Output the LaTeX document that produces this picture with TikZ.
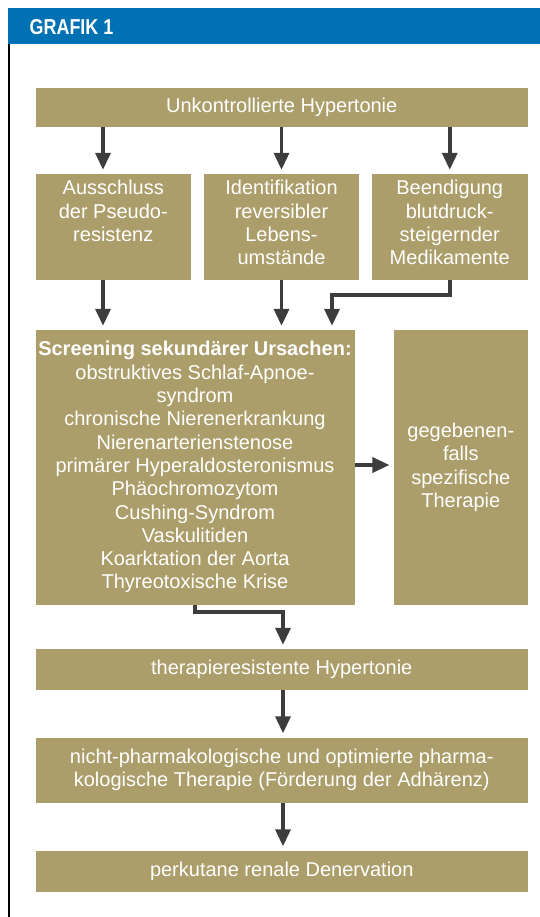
\documentclass[tikz,border=0pt]{standalone}
\usepackage{fontspec}
\setmainfont{Liberation Sans}
\newfontfamily\kopffont{Liberation Sans}[FakeStretch=0.83]
\usetikzlibrary{arrows.meta}
\definecolor{kasten}{HTML}{AB9E6A}
\definecolor{kopfblau}{HTML}{0071B3}
\definecolor{pfeilgrau}{HTML}{3D3D3D}

\begin{document}
\begin{tikzpicture}[x=1pt,y=-1pt,>={Triangle[width=15pt,length=17pt]},
	box/.style={fill=kasten,text=white,inner sep=0pt,align=center,
		font=\fontsize{20}{23.3}\selectfont},
	pfeil/.style={draw=pfeilgrau,line width=3.5pt,->,shorten >=4pt}]
	\useasboundingbox (0,0) rectangle (540,917);
	% Kopfzeile
	\fill[kopfblau] (7.6,8.3) rectangle (540,44);
	\node[anchor=west,inner sep=0pt,text=white,font=\kopffont\bfseries\fontsize{21.6}{24}\selectfont] (titel) at (29.5,26.8) {GRAFIK 1};
	\draw[line width=2.5pt] (9,44) -- (9,917);
	% Kaesten
	\node[box,minimum width=492.5pt,minimum height=39pt] (unkontr) at (281.75,107.5) {Unkontrollierte Hypertonie};
	\node[box] (ausschluss) at (113.25,227) {\parbox[c][106pt][t]{155.5pt}{\vspace*{6.5pt}\centering Ausschluss\\der Pseudo-\\resistenz}};
	\node[box] (identifikation) at (281.5,227) {\parbox[c][106pt][t]{155pt}{\vspace*{6.5pt}\centering Identifikation\\reversibler\\Lebens-\\umstände}};
	\node[box] (beendigung) at (449.75,227) {\parbox[c][106pt][t]{155.5pt}{\vspace*{6.5pt}\centering Beendigung\\blutdruck-\\steigernder\\Medikamente}};
	\node[box,minimum width=319pt,minimum height=274.5pt] (screening) at (195,467.25) {\textbf{Screening sekundärer Ursachen:}\\obstruktives Schlaf-Apnoe-\\syndrom\\chronische Nierenerkrankung\\Nierenarterienstenose\\primärer Hyperaldosteronismus\\Phäochromozytom\\Cushing-Syndrom\\Vaskulitiden\\Koarktation der Aorta\\Thyreotoxische Krise};
	\node[box,minimum width=134.4pt,minimum height=274.5pt] (therapie) at (460.8,467.25) {gegebenen-\\falls\\spezifische\\Therapie};
	\node[box,minimum width=492.5pt,minimum height=40.5pt] (resistent) at (281.75,669.25) {therapieresistente Hypertonie};
	\node[box,minimum width=492.5pt,minimum height=65pt] (nichtpharm) at (281.75,770) {nicht-pharmakologische und optimierte pharma-\\kologische Therapie (Förderung der Adhärenz)};
	\node[box,minimum width=492.5pt,minimum height=41pt] (denervation) at (281.75,871) {perkutane renale Denervation};
	% Pfeile
	\coordinate (spurA) at (103,0);
	\coordinate (knickC) at (332,295);
	\coordinate (knickS) at (283,612);
	\draw[pfeil] (unkontr.south -| spurA) -- (ausschluss.north -| spurA);
	\draw[pfeil] (unkontr.south -| identifikation) -- (identifikation.north);
	\draw[pfeil] (unkontr.south -| beendigung) -- (beendigung.north);
	\draw[pfeil] (ausschluss.south -| spurA) -- (screening.north -| spurA);
	\draw[pfeil] (identifikation.south) -- (screening.north -| identifikation);
	\draw[pfeil] (beendigung.south) |- (knickC) -- (screening.north -| knickC);
	\draw[pfeil] (screening.east |- 0,465) -- (therapie.west |- 0,465);
	\draw[pfeil] (screening.south) |- (knickS) -- (resistent.north -| knickS);
	\draw[pfeil] (resistent.south -| knickS) -- (nichtpharm.north -| knickS);
	\draw[pfeil] (nichtpharm.south -| knickS) -- (denervation.north -| knickS);
\end{tikzpicture}
\end{document}
